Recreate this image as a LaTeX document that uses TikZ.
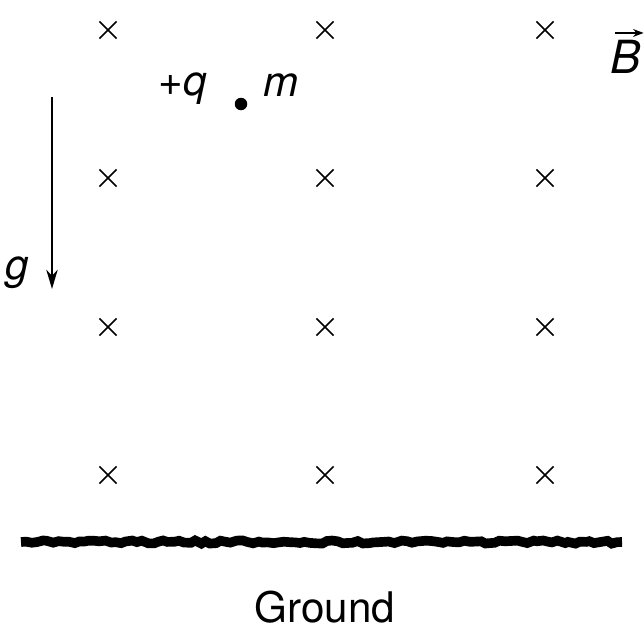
\documentclass[tikz,border=0pt]{standalone}
\usepackage{fontspec}
\setmainfont{TeX Gyre Heros}
\usetikzlibrary{arrows.meta,positioning,shapes.misc,decorations.pathmorphing}

\begin{document}
\begin{tikzpicture}[x=0.02cm, y=-0.02cm,
    fieldmark/.style={cross out, draw, line width=0.9pt, minimum size=0.31cm, inner sep=0pt},
    lbl/.style={font=\fontsize{24}{28}\selectfont\itshape, inner sep=0pt},
  ]
    \useasboundingbox (0,0) rectangle (644,629);
    \pgfmathsetseed{7}

    % field into the page
    \foreach \col/\x in {a/108,b/325,c/545}
      \foreach \row/\y in {1/30,2/178,3/327,4/475}
        \node[fieldmark] (x\col\row) at (\x,\y) {};

    % field label
    \node[lbl, font=\fontsize{26}{30}\selectfont\itshape] (B) at (626,57) {B};
    \draw[-{Stealth[length=6pt,width=4.5pt]}, line width=0.8pt]
      ([xshift=-6pt,yshift=4pt]B.north) -- ([xshift=10pt,yshift=4pt]B.north);

    % charged particle
    \node[circle, fill, inner sep=0pt, minimum size=0.25cm] (q) at (241,104) {};
    \node[lbl] (qlabel) at (183,89) {+q};
    \node[lbl] (mlabel) at (281,85) {m};

    % gravity
    \coordinate (gtop) at (52,97);
    \coordinate (gtip) at (52,289);
    \draw[-{Stealth[length=11pt,width=6.5pt,inset=3.5pt]}, line width=0.9pt] (gtop) -- (gtip);
    \node[lbl] (g) at (17,273) {g};

    % ground
    \coordinate (gleft) at (21,542);
    \coordinate (gright) at (622,542);
    \draw[line width=5.5pt, decorate,
      decoration={random steps, segment length=3pt, amplitude=0.9pt}] (gleft) -- (gright);
    \node[font=\fontsize{24}{28}\selectfont, inner sep=0pt] (ground) at (325,607) {Ground};
\end{tikzpicture}
\end{document}
